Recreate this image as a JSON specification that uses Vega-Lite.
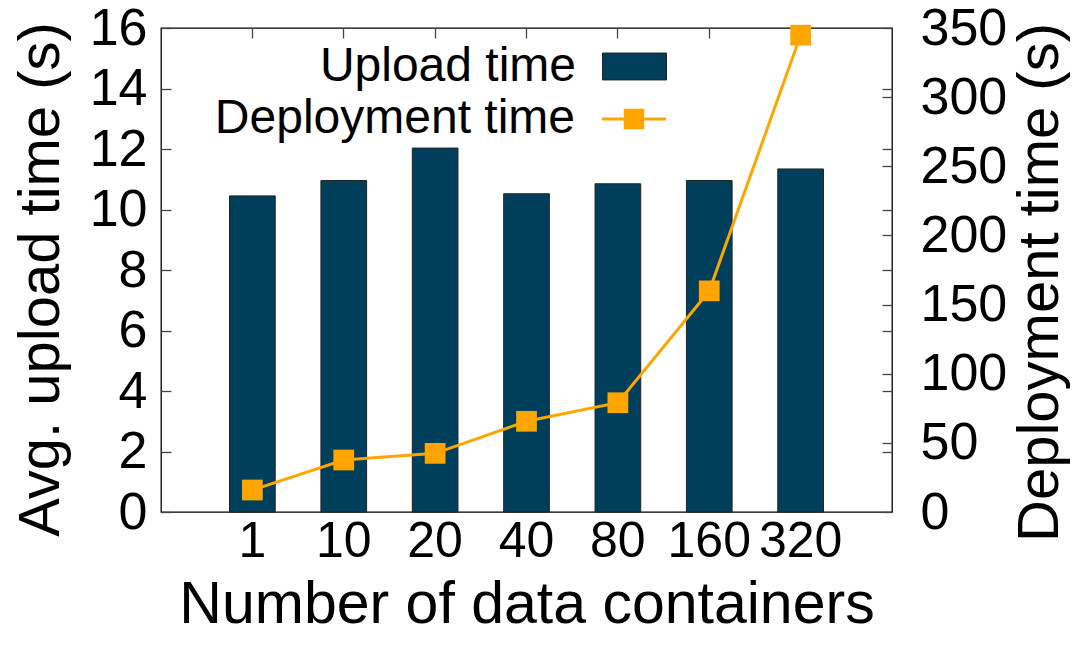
{
  "$schema": "https://vega.github.io/schema/vega-lite/v6.json",
  "width": 731,
  "height": 484,
  "autosize": {"type": "none"},
  "padding": {"left": 161, "top": 28, "right": 188, "bottom": 136},
  "config": {
    "font": "Liberation Sans",
    "view": {"stroke": "#000", "strokeWidth": 1.3},
    "axis": {
      "grid": false,
      "domain": false,
      "labelFont": "Liberation Sans",
      "titleFont": "Liberation Sans",
      "labelColor": "#000",
      "titleColor": "#000",
      "titleFontWeight": "normal",
      "tickColor": "#444",
      "tickWidth": 1.3
    },
    "legend": {"labelFont": "Liberation Sans", "labelColor": "#000"}
  },
  "data": {
    "values": [
      {"containers": "1", "series": "Upload time", "value": 10.45},
      {"containers": "10", "series": "Upload time", "value": 10.96},
      {"containers": "20", "series": "Upload time", "value": 12.03},
      {"containers": "40", "series": "Upload time", "value": 10.52},
      {"containers": "80", "series": "Upload time", "value": 10.85},
      {"containers": "160", "series": "Upload time", "value": 10.96},
      {"containers": "320", "series": "Upload time", "value": 11.34},
      {"containers": "1", "series": "Deployment time", "value": 15.9},
      {"containers": "10", "series": "Deployment time", "value": 37.6},
      {"containers": "20", "series": "Deployment time", "value": 42.4},
      {"containers": "40", "series": "Deployment time", "value": 65.6},
      {"containers": "80", "series": "Deployment time", "value": 79.0},
      {"containers": "160", "series": "Deployment time", "value": 159.9},
      {"containers": "320", "series": "Deployment time", "value": 344.8}
    ]
  },
  "resolve": {"scale": {"y": "independent", "fill": "independent"}, "axis": {"x": "independent"}},
  "layer": [
    {
      "transform": [{"filter": "datum.series === 'Upload time'"}],
      "mark": {"type": "bar", "stroke": "#222", "strokeWidth": 1},
      "encoding": {
        "x": {
          "field": "containers", "type": "ordinal", "sort": null,
          "scale": {"paddingInner": 0.5, "paddingOuter": 0.75},
          "axis": {"orient": "bottom", "title": "Number of data containers", "labelAngle": 0, "labelFontSize": 50, "titleFontSize": 59, "ticks": false, "labelPadding": 4, "titlePadding": 9}
        },
        "y": {
          "field": "value", "type": "quantitative",
          "scale": {"domain": [0, 16], "nice": false},
          "axis": {"orient": "left", "title": "Avg. upload time (s)", "values": [0, 2, 4, 6, 8, 10, 12, 14, 16], "tickSize": -10, "labelFontSize": 52, "titleFontSize": 58, "labelPadding": 24, "titlePadding": 19, "titleY": 251}
        },
        "fill": {
          "field": "series", "type": "nominal",
          "scale": {"domain": ["Upload time"], "range": ["#003f5c"]},
          "legend": {"orient": "none", "legendX": 441, "legendY": 6, "title": null, "padding": 0, "symbolType": "M-1,-0.42H1V0.42H-1Z", "symbolSize": 4096, "symbolStrokeColor": "#222", "symbolStrokeWidth": 1, "labelFontSize": 48, "labelAlign": "right", "labelOffset": -91, "labelLimit": 0}
        }
      }
    },
    {
      "transform": [{"filter": "datum.series === 'Deployment time'"}],
      "encoding": {
        "x": {
          "field": "containers", "type": "ordinal", "sort": null,
          "axis": {"orient": "top", "title": null, "labels": false, "tickSize": -10}
        },
        "y": {
          "field": "value", "type": "quantitative",
          "scale": {"domain": [0, 350], "nice": false},
          "axis": {"orient": "right", "title": "Deployment time (s)", "titleAngle": 270, "values": [0, 43.75, 50, 87.5, 100, 131.25, 150, 175, 200, 218.75, 250, 262.5, 300, 306.25, 350], "labelExpr": "datum.value % 50 === 0 ? datum.label : ''", "tickSize": -10, "labelFontSize": 52, "titleFontSize": 58, "labelPadding": 38, "titlePadding": 63, "titleY": 254}
        }
      },
      "layer": [
        {"mark": {"type": "line", "stroke": "#FFA500", "strokeWidth": 3}},
        {
          "mark": {"type": "point", "shape": "square", "filled": true, "size": 430, "opacity": 1},
          "encoding": {
            "fill": {
              "field": "series", "type": "nominal",
              "scale": {"domain": ["Deployment time"], "range": ["#FFA500"]},
              "legend": {"orient": "none", "legendX": 441, "legendY": 59, "title": null, "padding": 0, "symbolType": "M-1,-0.047H-0.32V-0.32H0.32V-0.047H1V0.047H0.32V0.32H-0.32V0.047H-1Z", "symbolSize": 4096, "symbolStrokeWidth": 0, "symbolOpacity": 1, "labelFontSize": 48, "labelAlign": "right", "labelOffset": -91, "labelLimit": 0}
            }
          }
        }
      ]
    }
  ]
}
